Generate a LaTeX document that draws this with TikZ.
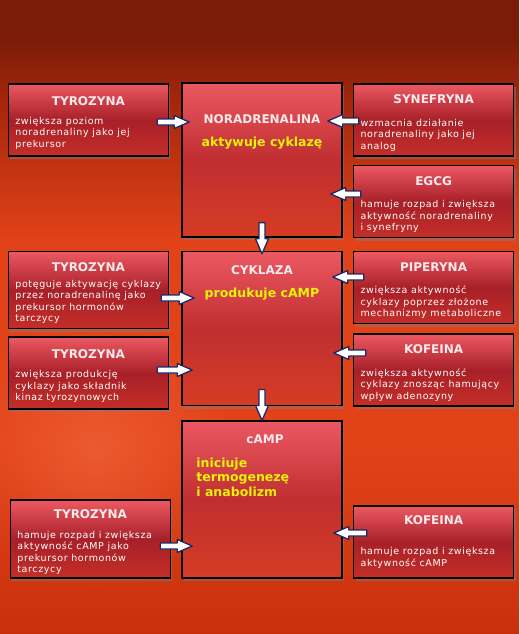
\documentclass[tikz,border=0pt]{standalone}
\usepackage{fontspec}
\setmainfont{DejaVu Sans}
\newfontfamily\bodyfam[LetterSpace=6.5]{DejaVu Sans}
\usetikzlibrary{positioning,calc,shadows,fadings}

\definecolor{bgtop}{RGB}{122,28,8}
\definecolor{bgupper}{RGB}{165,38,12}
\definecolor{bgmid}{RGB}{226,66,24}
\definecolor{bgbot}{RGB}{200,48,12}
\definecolor{boxtop}{RGB}{236,88,98}
\definecolor{boxmid}{RGB}{168,32,40}
\definecolor{boxbot}{RGB}{196,46,40}
\definecolor{ctrmid}{RGB}{192,46,48}
\definecolor{ctrbot}{RGB}{214,60,36}
\definecolor{headwhite}{RGB}{250,234,236}
\definecolor{actyellow}{RGB}{232,242,10}
\definecolor{arrowblue}{RGB}{28,42,104}
\definecolor{glow}{RGB}{246,110,66}

% the path is fitted to the middle 50bp of the shading
\pgfdeclareverticalshading{bgshade}{100bp}{color(0bp)=(bgbot); color(25bp)=(bgbot); color(40bp)=(bgmid); color(56bp)=(bgmid); color(67bp)=(bgupper); color(72bp)=(bgtop); color(100bp)=(bgtop)}
\tikzfading[name=glowfade, inner color=transparent!0, outer color=transparent!100]

\newcommand\boxhead[1]{\makebox[146pt]{\rule{0pt}{15pt}\normalfont\bfseries\fontsize{12}{14}\selectfont\color{headwhite}#1}}

\tikzset{
  sidebox/.style={draw=black, line width=1.6pt, top color=boxtop, bottom color=boxbot, middle color=boxmid,
    drop shadow={shadow xshift=2pt, shadow yshift=-3pt, opacity=.45},
    minimum width=160pt, minimum height=72pt, inner xsep=7pt, inner ysep=0pt,
    align=left, text=white, font=\bodyfam\fontsize{9.5}{11.5}\selectfont},
  ctrbox/.style={draw=black, line width=1.6pt, top color=boxtop, bottom color=ctrbot, middle color=ctrmid,
    drop shadow={shadow xshift=2pt, shadow yshift=-3pt, opacity=.45},
    minimum width=160pt, minimum height=154pt},
  ctitle/.style={inner sep=0pt, text=headwhite, font=\bfseries\fontsize{12}{14}\selectfont},
  cact/.style={inner sep=0pt, text=actyellow, align=left, font=\bfseries\fontsize{12.5}{14.7}\selectfont},
  fatarrow/.style={draw=arrowblue, fill=white, line width=1.3pt, line join=round,
    to path={($(\tikztostart)!3pt!90:(\tikztotarget)$)
      -- ($($(\tikztotarget)!15pt!(\tikztostart)$)!3pt!90:(\tikztotarget)$)
      -- ($($(\tikztotarget)!15pt!(\tikztostart)$)!6.5pt!90:(\tikztotarget)$)
      -- (\tikztotarget)
      -- ($($(\tikztotarget)!15pt!(\tikztostart)$)!6.5pt!-90:(\tikztotarget)$)
      -- ($($(\tikztotarget)!15pt!(\tikztostart)$)!3pt!-90:(\tikztotarget)$)
      -- ($(\tikztostart)!3pt!-90:(\tikztotarget)$) -- cycle}}
}

\begin{document}
\begin{tikzpicture}[x=1pt, y=-1pt]
  % background
  \useasboundingbox (0,0) rectangle (519,634);
  \shade[shading=bgshade] (0,0) rectangle (519,634);
  \fill[glow, path fading=glowfade, fill opacity=.55] (95,450) circle (140);

  % middle column
  \node[ctrbox] (nor) at (262,160) {};
  \node[ctrbox, below=13pt of nor] (cyk) {};
  \node[ctrbox, below=14pt of cyk, minimum height=157pt] (camp) {};

  \node[ctitle, below=32pt of nor.north] (nortitle) {NORADRENALINA};
  \node[cact, below=13pt of nortitle] (noract) {aktywuje cyklazę};
  \node[ctitle, below=15pt of cyk.north] (cyktitle) {CYKLAZA};
  \node[cact, below=13pt of cyktitle] (cykact) {produkuje cAMP};
  \node[ctitle, below=14pt of camp.north, xshift=3pt] (camptitle) {cAMP};
  \node[cact, below right=37pt and 15pt of camp.north west] (campact) {iniciuje\\termogenezę\\i anabolizm};

  % left column
  \node[sidebox, below left=1pt and 12pt of nor.north west] (tyrA)
    {\boxhead{TYROZYNA}\\[7pt]zwiększa poziom\\noradrenaliny jako jej\\prekursor};
  \node[sidebox, below left=0pt and 12pt of cyk.north west, minimum height=77pt] (tyrB)
    {\boxhead{TYROZYNA}\\[4pt]potęguje aktywację cyklazy\\przez noradrenalinę jako\\prekursor hormonów\\tarczycy};
  \node[sidebox, below=7pt of tyrB] (tyrC)
    {\boxhead{TYROZYNA}\\[8pt]zwiększa produkcję\\cyklazy jako składnik\\kinaz tyrozynowych};
  \node[sidebox, above left=0pt and 10pt of camp.south west, minimum height=78pt] (tyrD)
    {\boxhead{TYROZYNA}\\[8pt]hamuje rozpad i zwiększa\\aktywność cAMP jako\\prekursor hormonów\\tarczycy};

  % right column
  \node[sidebox, below right=1pt and 10pt of nor.north east] (syn)
    {\boxhead{SYNEFRYNA}\\[11pt]wzmacnia działanie\\noradrenaliny jako jej\\analog};
  \node[sidebox, below=8pt of syn] (egcg)
    {\boxhead{EGCG}\\[11pt]hamuje rozpad i zwiększa\\aktywność noradrenaliny\\i synefryny};
  \node[sidebox, below right=0pt and 10pt of cyk.north east] (pip)
    {\boxhead{PIPERYNA}\\[11pt]zwiększa aktywność\\cyklazy poprzez złożone\\mechanizmy metaboliczne};
  \node[sidebox, below=9pt of pip] (kofA)
    {\boxhead{KOFEINA}\\[11pt]zwiększa aktywność\\cyklazy znosząc hamujący\\wpływ adenozyny};
  \node[sidebox, above right=0pt and 10pt of camp.south east] (kofB)
    {\boxhead{KOFEINA}\\[19pt]hamuje rozpad i zwiększa\\aktywność cAMP\rule[-9pt]{0pt}{0pt}};

  % arrows
  \draw[fatarrow] ([xshift=-12pt]tyrA.east |- 0,122) to ([xshift=8pt]nor.west |- 0,122);
  \draw[fatarrow] ([xshift=6pt]syn.west |- 0,121) to ([xshift=-15pt]nor.east |- 0,121);
  \draw[fatarrow] ([xshift=8pt]egcg.west |- 0,194) to ([xshift=-12pt]nor.east |- 0,194);
  \draw[fatarrow] ([yshift=15pt]nor.south) to ([yshift=-3pt]cyk.north);
  \draw[fatarrow] ([xshift=-8pt]tyrB.east |- 0,298) to ([xshift=13pt]cyk.west |- 0,298);
  \draw[fatarrow] ([xshift=-12pt]tyrC.east |- 0,370) to ([xshift=11pt]cyk.west |- 0,370);
  \draw[fatarrow] ([xshift=11pt]pip.west |- 0,277) to ([xshift=-10pt]cyk.east |- 0,277);
  \draw[fatarrow] ([xshift=13pt]kofA.west |- 0,353) to ([xshift=-9pt]cyk.east |- 0,353);
  \draw[fatarrow] ([yshift=17pt]cyk.south) to (camp.north);
  \draw[fatarrow] ([xshift=-11pt]tyrD.east |- 0,546) to ([xshift=11pt]camp.west |- 0,546);
  \draw[fatarrow] ([xshift=14pt]kofB.west |- 0,533) to ([xshift=-9pt]camp.east |- 0,533);
\end{tikzpicture}
\end{document}
